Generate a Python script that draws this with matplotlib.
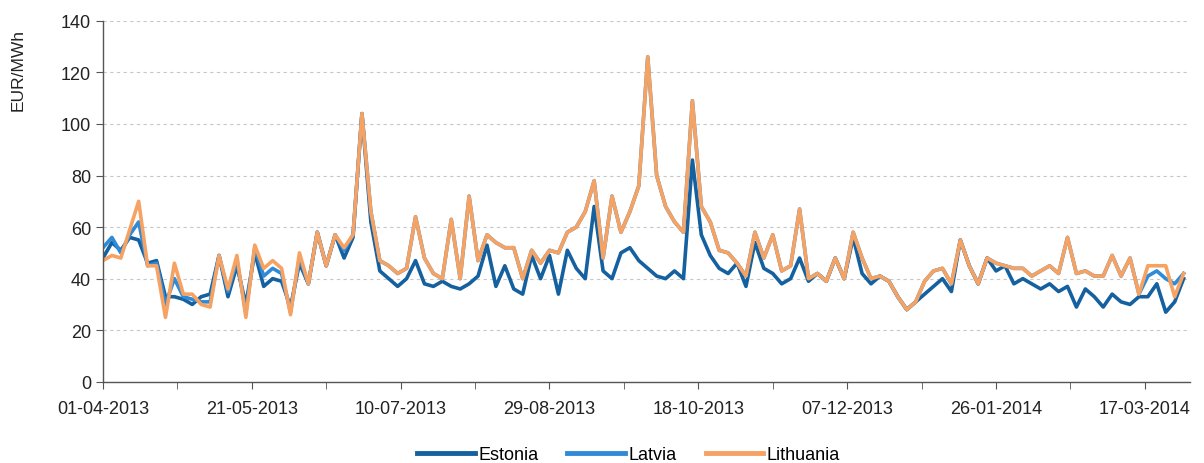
import matplotlib
matplotlib.use("Agg")
import matplotlib.pyplot as plt
import matplotlib.dates as mdates
import matplotlib.ticker as mticker
import pandas as pd

plt.rcParams['font.family'] = ['Liberation Sans', 'DejaVu Sans']

# prices every third day starting 01-04-2013 (EUR/MWh)
start_date = '2013-04-01'
step_days = 3

estonia = [
    48, 54, 51, 56, 55, 46, 47, 33, 33, 32,
    30, 33, 34, 49, 33, 45, 30, 50, 37, 40,
    39, 29, 46, 38, 58, 45, 57, 48, 56, 104,
    62, 43, 40, 37, 40, 47, 38, 37, 39, 37,
    36, 38, 41, 53, 37, 45, 36, 34, 49, 40,
    49, 34, 51, 44, 40, 68, 43, 40, 50, 52,
    47, 44, 41, 40, 43, 40, 86, 57, 49, 44,
    42, 46, 37, 54, 44, 42, 38, 40, 48, 39,
    42, 39, 48, 40, 56, 42, 38, 41, 39, 33,
    28, 31, 34, 37, 40, 35, 55, 45, 38, 48,
    43, 45, 38, 40, 38, 36, 38, 35, 37, 29,
    36, 33, 29, 34, 31, 30, 33, 33, 38, 27,
    31, 40,
]

latvia = [
    52, 56, 50, 57, 62, 45, 46, 30, 40, 33,
    32, 31, 31, 49, 35, 47, 27, 52, 41, 44,
    42, 27, 48, 38, 58, 45, 57, 51, 57, 104,
    66, 47, 45, 42, 44, 64, 48, 42, 40, 63,
    40, 72, 47, 57, 54, 52, 52, 40, 51, 46,
    51, 50, 58, 60, 66, 78, 48, 72, 58, 66,
    76, 126, 80, 68, 62, 58, 109, 68, 62, 51,
    50, 46, 41, 58, 48, 57, 43, 45, 67, 40,
    42, 39, 48, 40, 58, 48, 40, 41, 39, 33,
    28, 31, 39, 43, 44, 38, 55, 45, 38, 48,
    46, 45, 44, 44, 41, 43, 45, 42, 56, 42,
    43, 41, 41, 49, 41, 48, 34, 41, 43, 40,
    38, 42,
]

lithuania = [
    47, 49, 48, 59, 70, 45, 45, 25, 46, 34,
    34, 30, 29, 49, 36, 49, 25, 53, 44, 47,
    44, 26, 50, 38, 58, 45, 57, 52, 57, 104,
    66, 47, 45, 42, 44, 64, 48, 42, 40, 63,
    40, 72, 47, 57, 54, 52, 52, 40, 51, 46,
    51, 50, 58, 60, 66, 78, 48, 72, 58, 66,
    76, 126, 80, 68, 62, 58, 109, 68, 62, 51,
    50, 46, 41, 58, 48, 57, 43, 45, 67, 40,
    42, 39, 48, 40, 58, 48, 40, 41, 39, 33,
    28, 31, 39, 43, 44, 38, 55, 45, 38, 48,
    46, 45, 44, 44, 41, 43, 45, 42, 56, 42,
    43, 41, 41, 49, 41, 48, 34, 45, 45, 45,
    33, 42,
]

series_names = ['Estonia', 'Latvia', 'Lithuania']
series_colors = ['#15609f', '#2f8ad8', '#f5a263']

tick_step = '50D'
minor_step = '25D'


def main():
    dates = pd.date_range(start_date, periods=len(estonia), freq=f'{step_days}D')

    fig = plt.figure(figsize=(12.04, 4.64), dpi=100)
    ax = fig.add_axes([0.0855, 0.175, 0.9025, 0.778])

    for name, vals, col in zip(series_names, [estonia, latvia, lithuania], series_colors):
        ax.plot(dates, vals, color=col, lw=2.6, label=name, solid_joinstyle='round')

    ax.set_ylim(0, 140)
    ax.yaxis.set_major_locator(mticker.MultipleLocator(20))
    ax.set_xlim(pd.Timestamp('2013-04-01'), pd.Timestamp('2014-04-01'))

    majors = pd.date_range(start_date, periods=8, freq=tick_step)
    minors = pd.date_range(start_date, periods=15, freq=minor_step)
    ax.xaxis.set_major_locator(mticker.FixedLocator(mdates.date2num(majors)))
    ax.xaxis.set_minor_locator(mticker.FixedLocator(mdates.date2num(minors)))
    ax.xaxis.set_major_formatter(mdates.DateFormatter('%d-%m-%Y'))

    ax.grid(axis='y', color='#c8c8c8', lw=0.8, linestyle=(0, (3, 3)))
    ax.set_axisbelow(True)
    for s in ['top', 'right']:
        ax.spines[s].set_visible(False)
    for s in ['left', 'bottom']:
        ax.spines[s].set_color('#555555')
        ax.spines[s].set_linewidth(1.0)

    ax.tick_params(axis='both', which='both', direction='out', length=5,
                   color='#555555', labelsize=13, labelcolor='#222222')
    ax.tick_params(axis='x', pad=8)
    ax.set_ylabel('EUR/MWh', fontsize=12.5, color='#222222', loc='top')
    ax.yaxis.set_label_coords(-0.071, 0.98)

    fig.legend(loc='lower center', bbox_to_anchor=(0.522, -0.035), ncol=3,
               frameon=False, fontsize=13, handlelength=3.2, columnspacing=1.6,
               handletextpad=0.2)
    for line in fig.legends[0].get_lines():
        line.set_linewidth(3.5)

    fig.savefig('out.png', dpi=100)


if __name__ == '__main__':
    main()
